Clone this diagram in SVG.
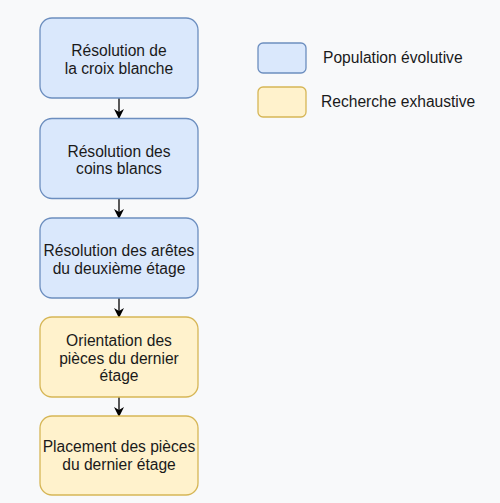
<svg xmlns="http://www.w3.org/2000/svg" width="500" height="503" viewBox="0 0 500 503">
<defs>
<style>
.blue{fill:#dae8fc;stroke:#6c8ebf;stroke-width:1.3}
.yellow{fill:#fff2cc;stroke:#d6b656;stroke-width:1.3}
text{font-family:"Liberation Sans",Arial,sans-serif;font-size:15.6px;fill:#1a1a1a}
.c{text-anchor:middle}
.edge{stroke:#000;stroke-width:1.3;fill:none}
</style>
<marker id="arr" viewBox="0 0 10 10" refX="9" refY="5" markerWidth="10" markerHeight="10" markerUnits="userSpaceOnUse" orient="auto">
<path d="M0,0 L10,5 L0,10 L3,5 Z" fill="#000"/>
</marker>
</defs>
<rect width="500" height="503" fill="#f8f9fa"/>
<g id="connectors">
<line class="edge" x1="119" y1="98" x2="119" y2="118" marker-end="url(#arr)"/>
<line class="edge" x1="119" y1="198" x2="119" y2="218" marker-end="url(#arr)"/>
<line class="edge" x1="119" y1="298" x2="119" y2="317" marker-end="url(#arr)"/>
<line class="edge" x1="119" y1="397" x2="119" y2="416" marker-end="url(#arr)"/>
</g>
<g id="n1">
<rect class="blue" x="40" y="18" width="158" height="80" rx="12"/>
<text class="c" x="119" y="56">Résolution de</text>
<text class="c" x="119" y="74">la croix blanche</text>
</g>
<g id="n2">
<rect class="blue" x="40" y="118.5" width="158" height="80" rx="12"/>
<text class="c" x="119" y="156.5">Résolution des</text>
<text class="c" x="119" y="174">coins blancs</text>
</g>
<g id="n3">
<rect class="blue" x="40" y="218" width="158" height="80" rx="12"/>
<text class="c" x="119" y="256">Résolution des arêtes</text>
<text class="c" x="119" y="273.5">du deuxième étage</text>
</g>
<g id="n4">
<rect class="yellow" x="40" y="317" width="158" height="80" rx="12"/>
<text class="c" x="119" y="346">Orientation des</text>
<text class="c" x="119" y="363.5">pièces du dernier</text>
<text class="c" x="119" y="381">étage</text>
</g>
<g id="n5">
<rect class="yellow" x="40" y="416" width="158" height="79" rx="12"/>
<text class="c" x="119" y="452">Placement des pièces</text>
<text class="c" x="119" y="470">du dernier étage</text>
</g>
<g id="legend-blue">
<rect class="blue" x="258" y="43" width="48" height="30" rx="5"/>
<text x="323" y="63">Population évolutive</text>
</g>
<g id="legend-yellow">
<rect class="yellow" x="258" y="87" width="48" height="30" rx="5"/>
<text x="321" y="107">Recherche exhaustive</text>
</g>
</svg>
